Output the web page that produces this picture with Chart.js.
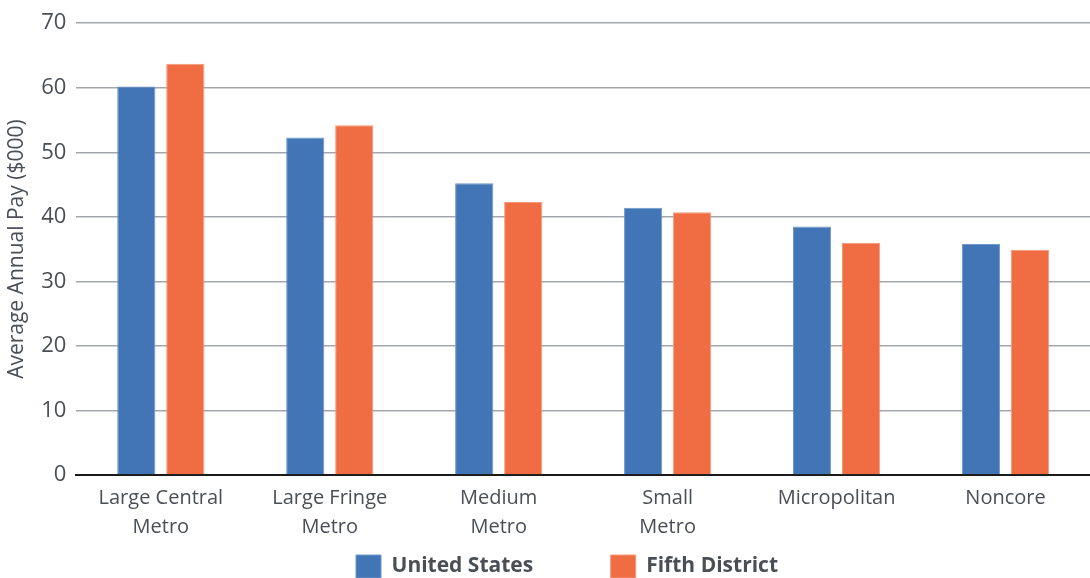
<!DOCTYPE html>
<html>
<head>
<meta charset="utf-8">
<script src="https://cdn.jsdelivr.net/npm/chart.js@4"></script>
<style>
  html, body { margin: 0; padding: 0; background: #fff; }
  #wrap { width: 1090px; height: 578px; }
</style>
</head>
<body>
<div id="wrap"><canvas id="chart" width="1090" height="578"></canvas></div>
<script>
// data
const categories = [
  ['Large Central', 'Metro'],
  ['Large Fringe', 'Metro'],
  ['Medium', 'Metro'],
  ['Small', 'Metro'],
  'Micropolitan',
  'Noncore'
];
const unitedStates = [60.2, 52.3, 45.2, 41.4, 38.5, 35.8];
const fifthDistrict = [63.7, 54.2, 42.3, 40.7, 36.0, 34.9];
const yTicks = [0, 10, 20, 30, 40, 50, 60, 70];

const textColor = '#4a4f56';
const font = "'Open Sans', 'Noto Sans', sans-serif";

// nudge the legend a bit right of the canvas centre, like the original
const legendShift = {
  id: 'legendShift',
  afterLayout(chart) {
    chart.legend.left += 20;
    chart.legend.right += 20;
  }
};

const ctx = document.getElementById('chart').getContext('2d');
new Chart(ctx, {
  type: 'bar',
  data: {
    labels: categories,
    datasets: [
      {
        label: 'United States',
        data: unitedStates,
        backgroundColor: '#4275b6',
        borderColor: '#6f97c8',
        borderWidth: 1,
        barPercentage: 0.78,
        categoryPercentage: 0.58
      },
      {
        label: 'Fifth District',
        data: fifthDistrict,
        backgroundColor: '#f06c43',
        borderColor: '#f5987a',
        borderWidth: 1,
        barPercentage: 0.78,
        categoryPercentage: 0.58
      }
    ]
  },
  plugins: [legendShift],
  options: {
    responsive: false,
    animation: false,
    layout: { padding: { top: 7, right: 0, left: 4, bottom: -10 } },
    scales: {
      x: {
        grid: { display: false, drawTicks: false },
        border: { color: '#1a1a1a', width: 2 },
        ticks: {
          color: textColor,
          font: { family: font, size: 20, lineHeight: 1.45 },
          padding: 9
        }
      },
      y: {
        min: 0,
        max: 70,
        afterBuildTicks: axis => { axis.ticks = yTicks.map(v => ({ value: v })); },
        grid: { color: '#a3a7ad', lineWidth: 1.5, drawTicks: false },
        border: { display: false },
        ticks: { color: textColor, font: { family: font, size: 22 }, padding: 10 },
        title: {
          display: true,
          text: 'Average Annual Pay ($000)',
          color: textColor,
          font: { family: font, size: 21 },
          padding: { top: 0, bottom: 2 }
        }
      }
    },
    plugins: {
      legend: {
        position: 'bottom',
        labels: {
          color: textColor,
          font: { family: font, size: 21, weight: 'bold' },
          boxWidth: 25,
          boxHeight: 23,
          padding: 4,
          useBorderRadius: false,
          // widen the gap between the two entries
          generateLabels: chart => Chart.defaults.plugins.legend.labels.generateLabels(chart)
            .map((item, i) => i === 0 ? { ...item, text: item.text + '\u2003\u2003\u2003\u2002' } : item)
        }
      },
      tooltip: { enabled: false }
    }
  }
});
</script>
</body>
</html>
